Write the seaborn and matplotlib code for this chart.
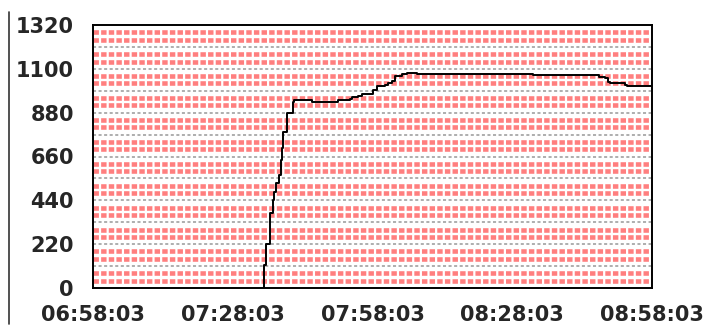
import matplotlib
matplotlib.use("Agg")
import matplotlib.pyplot as plt
import matplotlib.ticker as mticker
import matplotlib.dates as mdates
from matplotlib.lines import Line2D
import numpy as np
import pandas as pd
import seaborn as sns

# Recorded readings: time of sample and measured value
times = [
    "07:34:46", "07:34:46", "07:35:07", "07:35:58", "07:36:38", "07:36:58",
    "07:37:16", "07:37:59", "07:38:20", "07:38:41", "07:38:54", "07:39:38",
    "07:40:55", "07:41:12", "07:45:00", "07:50:38", "07:53:13", "07:53:35",
    "07:55:00", "07:55:44", "07:58:13", "07:58:57", "08:00:44", "08:01:26",
    "08:02:10", "08:02:53", "08:04:19", "08:05:23", "08:07:32", "08:32:34",
    "08:46:40", "08:47:58", "08:48:40", "08:49:02", "08:50:28", "08:52:15",
    "08:52:37", "08:58:03",
]
values = [
    0, 115, 220, 376, 441, 483,
    525, 567, 642, 703, 784, 878,
    935, 944, 935, 944, 947, 957,
    964, 974, 994, 1014, 1019, 1030,
    1040, 1064, 1074, 1081, 1074, 1068,
    1061, 1053, 1035, 1030, 1027, 1019,
    1015, 1015,
]

x_start = "06:58:03"
x_end = "08:58:03"
x_tick_labels = ["06:58:03", "07:28:03", "07:58:03", "08:28:03", "08:58:03"]
y_max = 1320
y_label_step = 220
y_major_step = 110
y_minor_step = 55

day = "2000-01-01 "
df = pd.DataFrame({
    "time": pd.to_datetime([day + t for t in times]),
    "value": values,
})
t0 = pd.Timestamp(day + x_start)
t1 = pd.Timestamp(day + x_end)

sns.set_style("white")
plt.rcParams["font.family"] = ["DejaVu Sans"]
plt.rcParams["lines.scale_dashes"] = False

fig = plt.figure(figsize=(7.06, 3.28), dpi=100)
ax = fig.add_axes([93 / 706, 40 / 328, 559 / 706, 263 / 328])
ax.set_facecolor("white")

# Background bands: pink dashed rows, grey dashed grid at every 110
third = y_major_step / 3
for k in range(int(y_max / y_major_step)):
    for j in (1, 2):
        ax.axhline(k * y_major_step + j * third, color="#ff7f7f",
                   linewidth=3.3, linestyle=(0, (3.9, 1.6)), zorder=1)
for k in range(1, int(y_max / y_major_step)):
    ax.axhline(k * y_major_step, color="#999999", linewidth=1.1,
               linestyle=(0, (2.2, 1.8)), zorder=2)

sns.lineplot(data=df, x="time", y="value", estimator=None, sort=False,
             drawstyle="steps-post", color="black", linewidth=1.4,
             ax=ax, zorder=3)

ax.set_xlim(t0, t1)
ax.set_ylim(0, y_max)
ax.set_xlabel("")
ax.set_ylabel("")

major_x = [pd.Timestamp(day + t) for t in x_tick_labels]
minor_x = pd.date_range(t0, t1, freq="10min")
ax.xaxis.set_major_locator(mticker.FixedLocator(mdates.date2num(major_x)))
ax.xaxis.set_minor_locator(mticker.FixedLocator(mdates.date2num(minor_x)))
ax.xaxis.set_major_formatter(mdates.DateFormatter("%H:%M:%S"))

ax.yaxis.set_major_locator(mticker.MultipleLocator(y_major_step))
ax.yaxis.set_minor_locator(mticker.MultipleLocator(y_minor_step))
ax.yaxis.set_major_formatter(mticker.FuncFormatter(
    lambda v, p: f"{int(round(v))}" if int(round(v)) % y_label_step == 0 else ""))

ax.tick_params(axis="both", which="major", direction="out", length=10.8,
               width=1.1, color="black", labelsize=15)
ax.tick_params(axis="x", which="major", pad=1.5)
ax.tick_params(axis="y", which="major", pad=3.0)
ax.tick_params(axis="both", which="minor", direction="out", length=4.5,
               width=1.1, color="black")
for lab in ax.get_xticklabels() + ax.get_yticklabels():
    lab.set_fontweight("bold")

for s in ax.spines.values():
    s.set_visible(True)
    s.set_color("black")
    s.set_linewidth(1.4)
    s.set_zorder(5)

# Thin rule along the left margin of the figure
fig.add_artist(Line2D([9 / 706, 9 / 706], [1 - 12 / 328, 1 - 324 / 328],
                      transform=fig.transFigure, color="#333333",
                      linewidth=1.2))

fig.savefig("out.png", dpi=100)
